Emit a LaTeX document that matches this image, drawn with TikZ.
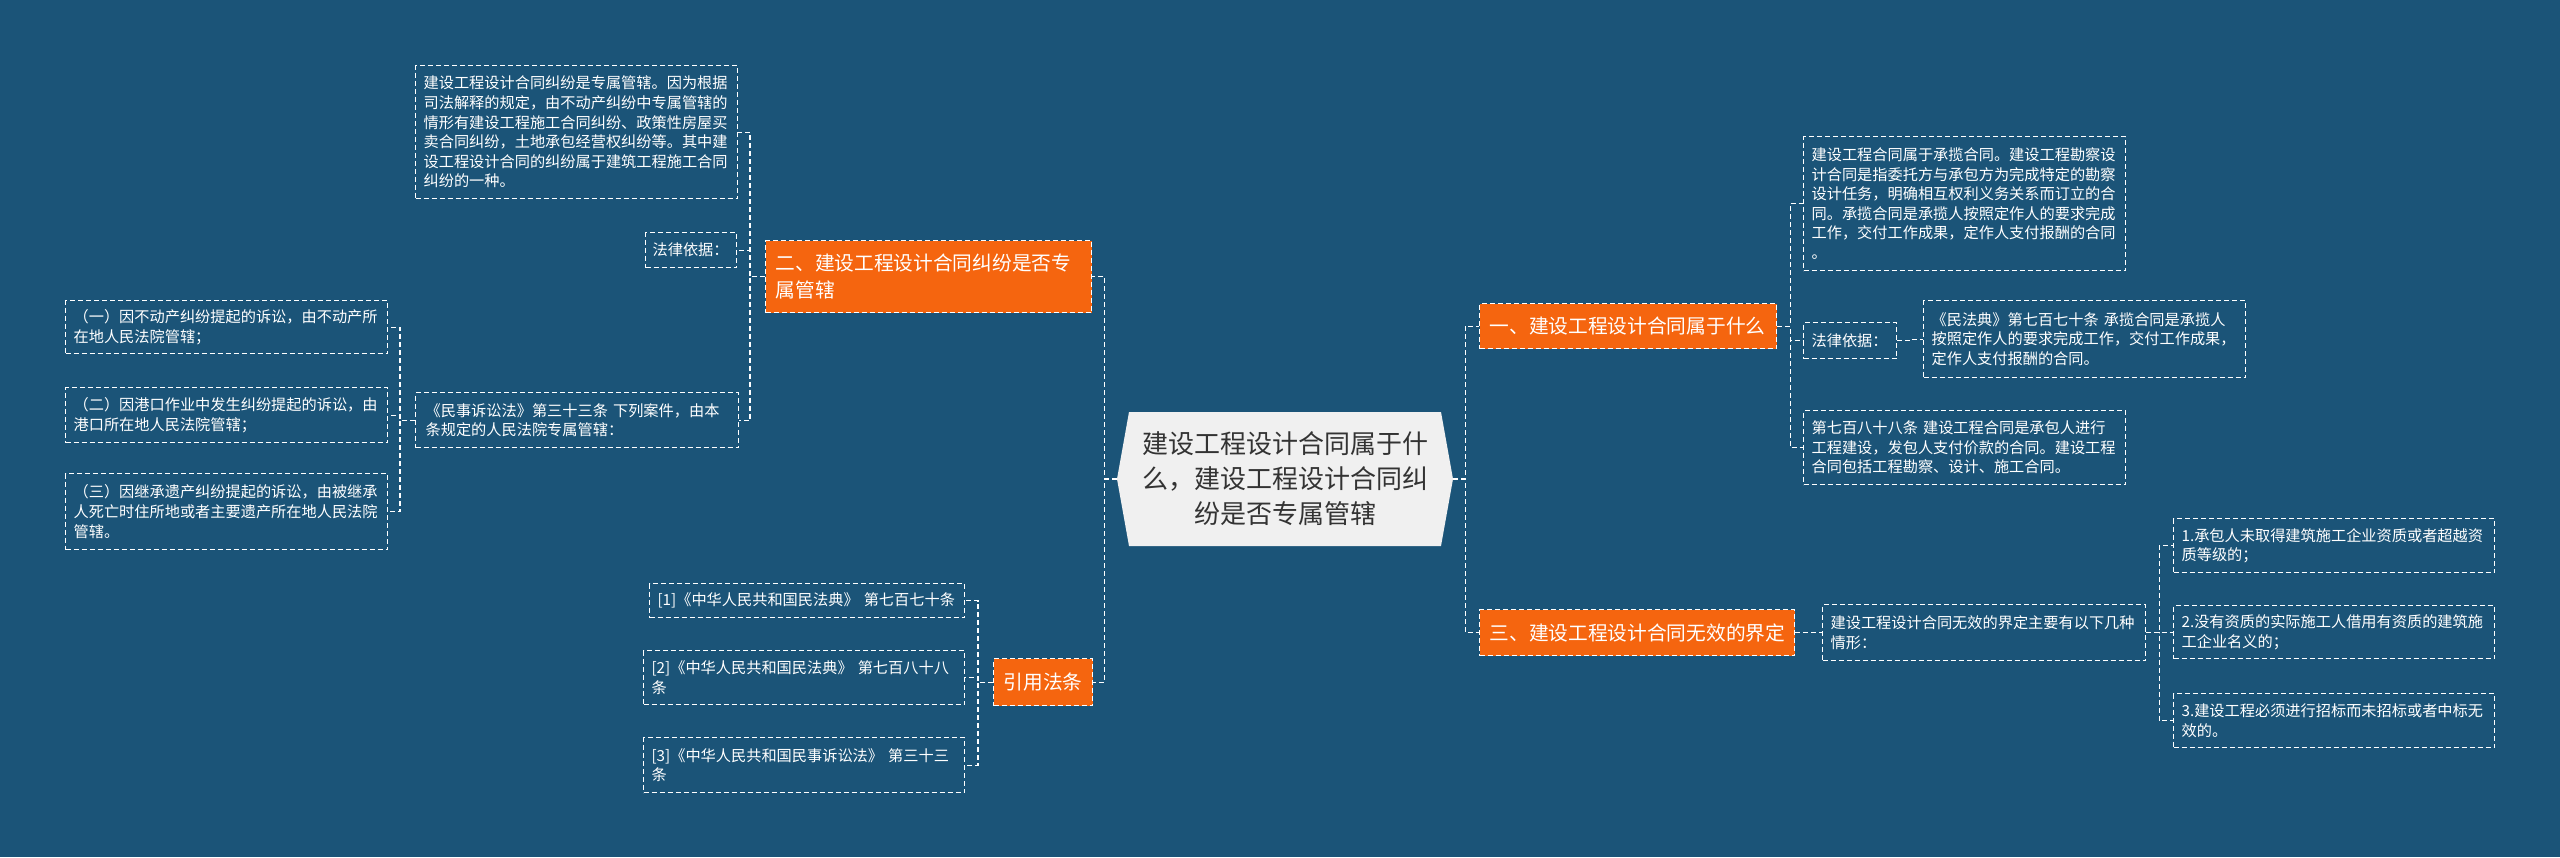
\documentclass[tikz,border=0pt]{standalone}
\usepackage{fontspec}
\setmainfont{Noto Sans CJK SC}
\usepackage{tikz}
\usetikzlibrary{calc}
\definecolor{bgblue}{RGB}{27, 84, 120}
\definecolor{branchorange}{RGB}{245, 101, 15}
\definecolor{rootfill}{RGB}{240, 240, 240}
\definecolor{roottext}{RGB}{51, 51, 51}
\newcommand{\leaffont}{\fontsize{15.2}{19.6}\selectfont}
\newcommand{\branchfont}{\fontsize{19.7}{27}\selectfont}
\newcommand{\rootfont}{\fontsize{26}{35}\selectfont}

\begin{document}
\begin{tikzpicture}[x=1pt, y=-1pt,
    link/.style={draw=white, line width=1.2pt, dash pattern=on 5pt off 3pt},
    leaf/.style={link, text=white, font=\leaffont, align=left, anchor=north west,
        inner xsep=8pt, inner ysep=0pt, text width=#1},
    branch/.style={link, fill=branchorange, text=white, font=\branchfont, align=left,
        anchor=north west, inner xsep=10pt, inner ysep=0pt, text width=#1}]
    % Background
    \fill[bgblue] (0,0) rectangle (2560,857);
    \useasboundingbox (0,0) rectangle (2560,857);

    % Root
    \fill[rootfill] (1117,479) -- (1129,412) -- (1441,412) -- (1453,479) -- (1441,546) -- (1129,546) -- cycle;
    \node[text=roottext, font=\rootfont, align=center, minimum width=336pt, minimum height=134pt, inner sep=0pt]
        (root) at (1285,479) {建设工程设计合同属于什\\么，建设工程设计合同纠\\纷是否专属管辖};

    % Left branch: 二
    \node[branch=306pt, minimum height=72pt] (n2) at (765,240) {二、建设工程设计合同纠纷是否专\\属管辖};
    \node[leaf=306pt, minimum height=133pt] (a) at (415,65)
        {建设工程设计合同纠纷是专属管辖。因为根据\\司法解释的规定，由不动产纠纷中专属管辖的\\情形有建设工程施工合同纠纷、政策性房屋买\\卖合同纠纷，土地承包经营权纠纷等。其中建\\设工程设计合同的纠纷属于建筑工程施工合同\\纠纷的一种。};
    \node[leaf=77pt, minimum height=35pt, inner xsep=7pt] (lawL) at (645,232) {法律依据：};
    \node[leaf=303pt, minimum height=55pt, inner xsep=10pt] (msu) at (415,392)
        {《民事诉讼法》第三十三条 下列案件，由本\\条规定的人民法院专属管辖：};
    \node[leaf=306pt, minimum height=53pt] (k1) at (65,300) {（一）因不动产纠纷提起的诉讼，由不动产所\\在地人民法院管辖；};
    \node[leaf=306pt, minimum height=55pt] (k2) at (65,387) {（二）因港口作业中发生纠纷提起的诉讼，由\\港口所在地人民法院管辖；};
    \node[leaf=306pt, minimum height=76pt] (k3) at (65,473) {（三）因继承遗产纠纷提起的诉讼，由被继承\\人死亡时住所地或者主要遗产所在地人民法院\\管辖。};

    % Left branch: citations
    \node[branch=79pt, minimum height=47pt] (cite) at (993,658) {引用法条};
    \node[leaf=299pt, minimum height=34pt] (r1) at (649,583) {[1]《中华人民共和国民法典》 第七百七十条};
    \node[leaf=305pt, minimum height=54pt] (r2) at (643,650) {[2]《中华人民共和国民法典》 第七百八十八\\条};
    \node[leaf=305pt, minimum height=55pt] (r3) at (643,737) {[3]《中华人民共和国民事诉讼法》 第三十三\\条};

    % Right branch: 一
    \node[branch=277pt, minimum height=45pt] (n1) at (1479,303) {一、建设工程设计合同属于什么};
    \node[leaf=306pt, minimum height=134pt] (b) at (1803,136)
        {建设工程合同属于承揽合同。建设工程勘察设\\计合同是指委托方与承包方为完成特定的勘察\\设计任务，明确相互权利义务关系而订立的合\\同。承揽合同是承揽人按照定作人的要求完成\\工作，交付工作成果，定作人支付报酬的合同\\。};
    \node[leaf=77pt, minimum height=36pt] (lawR) at (1803,322) {法律依据：};
    \node[leaf=306pt, minimum height=77pt] (mfd) at (1923,300)
        {《民法典》第七百七十条 承揽合同是承揽人\\按照定作人的要求完成工作，交付工作成果，\\定作人支付报酬的合同。};
    \node[leaf=306pt, minimum height=74pt] (c) at (1803,410)
        {第七百八十八条 建设工程合同是承包人进行\\工程建设，发包人支付价款的合同。建设工程\\合同包括工程勘察、设计、施工合同。};

    % Right branch: 三
    \node[branch=295pt, minimum height=46pt] (n3) at (1479,609) {三、建设工程设计合同无效的界定};
    \node[leaf=307pt, minimum height=56pt] (d) at (1822,604) {建设工程设计合同无效的界定主要有以下几种\\情形：};
    \node[leaf=305pt, minimum height=54pt] (d1) at (2173,518) {1.承包人未取得建筑施工企业资质或者超越资\\质等级的；};
    \node[leaf=305pt, minimum height=53pt] (d2) at (2173,605) {2.没有资质的实际施工人借用有资质的建筑施\\工企业名义的；};
    \node[leaf=305pt, minimum height=54pt] (d3) at (2173,693) {3.建设工程必须进行招标而未招标或者中标无\\效的。};

    % Connectors
    \foreach \c in {n2,cite} \draw[link] (root.west) -- ++(-12,0) |- (\c.east);
    \foreach \c in {n1,n3} \draw[link] (root.east) -- ++(12,0) |- (\c.west);
    \foreach \c in {a,lawL,msu} \draw[link] (n2.west) -- ++(-15,0) |- (\c.east);
    \foreach \c in {k1,k2,k3} \draw[link] (msu.west) -- ++(-15,0) |- (\c.east);
    \foreach \c in {r1,r2,r3} \draw[link] (cite.west) -- ++(-15,0) |- (\c.east);
    \foreach \c in {b,lawR,c} \draw[link] (n1.east) -- ++(13,0) |- (\c.west);
    \draw[link] (lawR.east) -- ++(14,0) |- (mfd.west);
    \draw[link] (n3.east) -- ++(14,0) |- (d.west);
    \foreach \c in {d1,d2,d3} \draw[link] (d.east) -- ++(13,0) |- (\c.west);
\end{tikzpicture}
\end{document}
